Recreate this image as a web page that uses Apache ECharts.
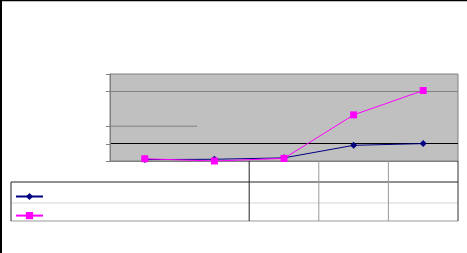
<!DOCTYPE html>
<html><head><meta charset="utf-8">
<script src="https://cdn.jsdelivr.net/npm/echarts@6/dist/echarts.min.js"></script>
<style>html,body{margin:0;padding:0;background:#fff}#c{width:467px;height:253px}</style>
</head><body><div id="c"></div>
<script>
const categories = ['1', '2', '3', '4', '5'];
const seriesAName = 'A';
const seriesBName = 'B';
const seriesA = [0.08, 0.1, 0.18, 0.9, 1.0];
const seriesB = [0.13, 0.0, 0.15, 2.65, 4.05];
const yTicks = [0, 1, 2, 3, 4, 5];
const shownTicks = [0, 1, 2, 4, 5];

const chart = echarts.init(document.getElementById('c'), null, {renderer: 'canvas'});
const option = {
  animation: false,
  backgroundColor: '#fff',
  grid: {left: 110, right: 9, top: 74, bottom: 92, show: true, backgroundColor: '#C0C0C0', borderColor: '#808080', borderWidth: 1},
  legend: {
    orient: 'vertical', left: 10, top: 187, itemWidth: 27, itemHeight: 9, itemGap: 11,
    formatter: () => '', data: [seriesAName, seriesBName]
  },
  xAxis: {
    type: 'category', data: categories, boundaryGap: true,
    axisLine: {lineStyle: {color: '#808080'}}, axisTick: {show: false}, axisLabel: {show: false}
  },
  yAxis: {
    type: 'value', min: yTicks[0], max: yTicks[yTicks.length - 1], interval: 1,
    axisLine: {show: true, lineStyle: {color: '#808080'}},
    axisTick: {show: false},
    axisLabel: {show: false},
    splitLine: {show: true, lineStyle: {color: ['rgba(0,0,0,0)', '#000000', 'rgba(0,0,0,0)', 'rgba(0,0,0,0)', '#808080', 'rgba(0,0,0,0)'], width: 1}}
  },
  series: [
    {name: seriesAName, type: 'line', data: seriesA, symbol: 'diamond', symbolSize: 7,
     lineStyle: {color: '#000080', width: 1}, itemStyle: {color: '#000080'}},
    {name: seriesBName, type: 'line', data: seriesB, symbol: 'rect', symbolSize: 7,
     lineStyle: {color: '#FF00FF', width: 1}, itemStyle: {color: '#FF00FF'}}
  ]
};
chart.setOption(option);

function px(i) { return chart.convertToPixel({xAxisIndex: 0}, i); }
function py(v) { return chart.convertToPixel({yAxisIndex: 0}, v); }
const band = px(1) - px(0);
const bounds = categories.map((c, i) => px(i) - band / 2).concat([px(categories.length - 1) + band / 2]);
const plotLeft = bounds[0], plotRight = bounds[bounds.length - 1];
const plotBottom = py(yTicks[0]);
const tableLeft = 11, rowTop = 182, rowMid = 203, rowBot = 221;
function line(x1, y1, x2, y2, color, w) {
  return {type: 'line', shape: {x1, y1, x2, y2}, style: {stroke: color, lineWidth: w || 1}, z: 10};
}
const g = [
  line(0, 0.5, 467, 0.5, '#000', 1.5),
  line(1, 0, 1, 253, '#000', 2),
  line(plotLeft, py(2), plotLeft + (plotRight - plotLeft) * 0.25, py(2), '#808080', 1),
  line(tableLeft, rowTop, plotRight, rowTop, '#222', 1),
  line(tableLeft, rowMid, plotRight, rowMid, '#d4d4d4', 1),
  line(tableLeft, rowBot, plotRight, rowBot, '#999', 1),
  line(tableLeft, rowTop, tableLeft, rowBot, '#222', 1),
  line(bounds[2], plotBottom, bounds[2], rowBot, '#222', 1),
  line(bounds[3], plotBottom, bounds[3], rowBot, '#999', 1),
  line(bounds[4], plotBottom, bounds[4], rowBot, '#999', 1),
  line(plotRight, plotBottom, plotRight, rowBot, '#333', 1)
].concat(shownTicks.map(v => line(plotLeft - 4, Math.round(py(v)) + 0.5, plotLeft, Math.round(py(v)) + 0.5, '#808080', 1)));
chart.setOption({graphic: g.map(e => Object.assign(e, {silent: true}))});
</script></body></html>
